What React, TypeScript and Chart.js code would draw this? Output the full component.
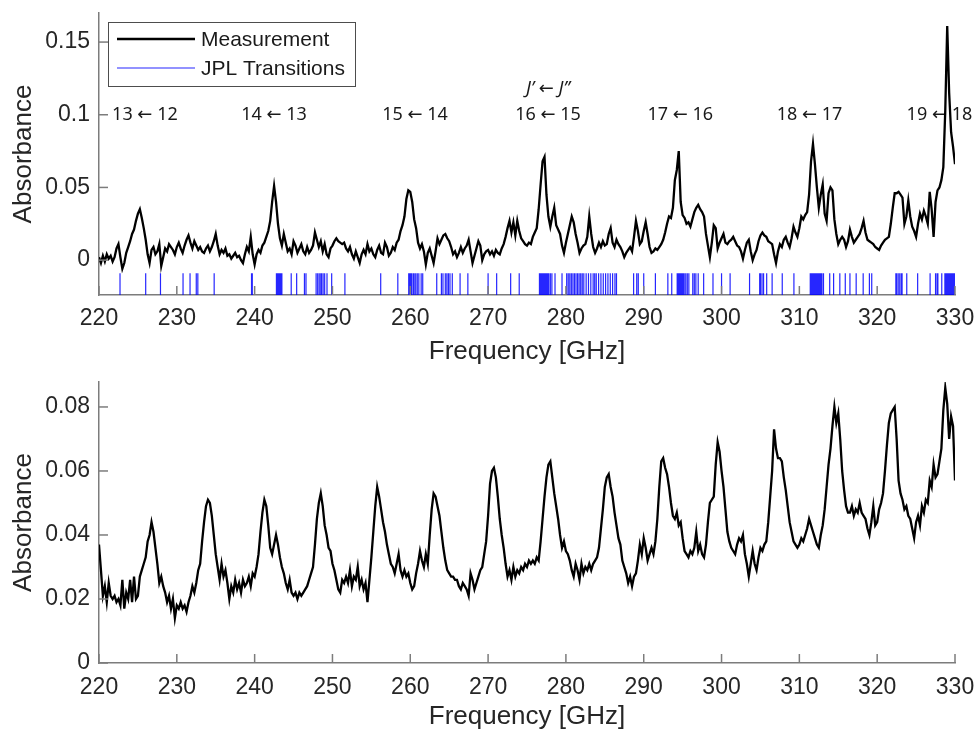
import React, { useEffect, useRef } from "react";
import { Chart, registerables } from "chart.js";

Chart.register(...registerables);

// ---------- data ----------
const FREQ_START = 220; // GHz, first sample
const FREQ_STEP = 0.25; // GHz between samples

const X_TICKS = [220, 230, 240, 250, 260, 270, 280, 290, 300, 310, 320, 330];
const TOP_Y_TICKS = [0, 0.05, 0.1, 0.15];
const BOTTOM_Y_TICKS = [0, 0.02, 0.04, 0.06, 0.08];

// upper panel: measured absorbance, 220 .. 330 GHz every 0.25 GHz (one row = 5 GHz)
const MEASUREMENT_TOP = [
  0.002, -0.002, 0.003, -0.001, 0.004, 0.001, 0.003, -0.001, 0.002, 0.008, 0.011, 0.002, -0.006, -0.002, 0.005, 0.009, 0.013, 0.018, 0.021, 0.027,
  0.032, 0.035, 0.029, 0.022, 0.014, 0.004, -0.002, 0.007, 0.009, 0.004, 0.006, 0.011, -0.004, 0.002, 0.008, 0.006, 0.011, 0.009, 0.007, 0.004,
  0.009, 0.012, 0.008, 0.005, 0.01, 0.014, 0.017, 0.012, 0.008, 0.013, 0.01, 0.007, 0.009, 0.006, 0.005, 0.008, 0.01, 0.006, 0.009, 0.013,
  0.018, 0.01, 0.004, 0.007, 0.005, 0.008, 0.003, 0.004, 0.001, 0.003, 0.005, 0.002, 0.003, 0.0, -0.002, 0.004, 0.009, 0.006, 0.016, 0.004,
  -0.003, 0.004, 0.007, 0.005, 0.01, 0.012, 0.016, 0.02, 0.027, 0.04, 0.051, 0.04, 0.025, 0.015, 0.01, 0.018, 0.012, 0.006, 0.008, 0.004,
  0.013, 0.01, 0.005, 0.008, 0.011, 0.006, 0.004, 0.009, 0.005, 0.007, 0.01, 0.019, 0.014, 0.009, 0.013, 0.006, 0.011, 0.004, 0.002, 0.008,
  0.01, 0.013, 0.015, 0.013, 0.012, 0.011, 0.012, 0.008, 0.006, 0.009, 0.004, 0.001, 0.006, 0.002, -0.002, 0.004, 0.007, 0.004, 0.011, 0.006,
  0.008, 0.004, 0.002, 0.007, 0.01, 0.005, 0.004, 0.012, 0.009, 0.003, 0.005, 0.009, 0.007, 0.012, 0.014, 0.02, 0.024, 0.03, 0.042, 0.048,
  0.047, 0.04, 0.028, 0.022, 0.012, 0.008, 0.011, 0.006, -0.003, 0.005, 0.008, 0.003, -0.002, 0.006, 0.015, 0.011, 0.014, 0.017, 0.018, 0.015,
  0.013, 0.009, 0.004, 0.006, 0.002, 0.005, 0.009, 0.005, 0.008, 0.01, 0.014, 0.006, -0.002, 0.003, 0.008, 0.013, 0.01, 0.0, 0.004, 0.006,
  0.007, 0.004, 0.006, 0.003, 0.007, 0.005, 0.004, 0.008, 0.011, 0.016, 0.022, 0.027, 0.019, 0.026, 0.017, 0.027, 0.02, 0.015, 0.013, 0.011,
  0.01, 0.012, 0.011, 0.016, 0.019, 0.022, 0.035, 0.052, 0.068, 0.071, 0.045, 0.03, 0.023, 0.03, 0.036, 0.024, 0.021, 0.018, 0.01, 0.005,
  0.012, 0.018, 0.024, 0.03, 0.026, 0.018, 0.012, 0.005, 0.008, 0.01, 0.011, 0.016, 0.03, 0.018, 0.009, 0.005, 0.008, 0.012, 0.009, 0.013,
  0.01, 0.011, 0.018, 0.022, 0.012, 0.009, 0.014, 0.011, 0.009, 0.006, 0.002, 0.005, 0.007, 0.009, 0.006, 0.016, 0.027, 0.02, 0.011, 0.013,
  0.02, 0.026, 0.018, 0.009, 0.005, 0.006, 0.008, 0.007, 0.009, 0.011, 0.014, 0.019, 0.025, 0.03, 0.029, 0.036, 0.055, 0.062, 0.075, 0.04,
  0.031, 0.029, 0.025, 0.026, 0.023, 0.028, 0.033, 0.036, 0.038, 0.035, 0.033, 0.03, 0.018, 0.01, 0.002, 0.012, 0.024, 0.022, 0.008, 0.012,
  0.015, 0.018, 0.012, 0.011, 0.013, 0.014, 0.016, 0.013, 0.01, 0.009, 0.006, 0.001, 0.007, 0.012, 0.014, 0.006, 0.0, 0.004, 0.007, 0.013,
  0.017, 0.019, 0.017, 0.016, 0.013, 0.012, 0.011, 0.004, -0.002, 0.006, 0.011, 0.009, 0.014, 0.016, 0.012, 0.009, 0.015, 0.023, 0.019, 0.016,
  0.022, 0.03, 0.028, 0.031, 0.033, 0.045, 0.068, 0.08, 0.066, 0.05, 0.036, 0.045, 0.052, 0.032, 0.027, 0.046, 0.05, 0.048, 0.028, 0.018,
  0.011, 0.014, 0.016, 0.014, 0.009, 0.013, 0.021, 0.016, 0.012, 0.014, 0.016, 0.018, 0.022, 0.027, 0.019, 0.014, 0.013, 0.012, 0.011, 0.009,
  0.008, 0.007, 0.01, 0.012, 0.014, 0.015, 0.016, 0.025, 0.036, 0.046, 0.046, 0.047, 0.045, 0.043, 0.025, 0.03, 0.041, 0.03, 0.023, 0.02,
  0.016, 0.025, 0.032, 0.028, 0.034, 0.03, 0.025, 0.047, 0.035, 0.016, 0.04, 0.048, 0.05, 0.055, 0.064, 0.103, 0.161, 0.115, 0.088, 0.078,
  0.066,
];

// lower panel: absorbance, 220 .. 330 GHz every 0.25 GHz (one row = 5 GHz)
const MEASUREMENT_BOTTOM = [
  0.037, 0.029, 0.021, 0.024, 0.019, 0.025, 0.021, 0.02, 0.021, 0.019, 0.02, 0.018, 0.026, 0.017, 0.022, 0.02, 0.026, 0.019, 0.027, 0.02,
  0.021, 0.027, 0.029, 0.031, 0.033, 0.038, 0.04, 0.044, 0.041, 0.036, 0.031, 0.025, 0.027, 0.024, 0.022, 0.019, 0.021, 0.017, 0.02, 0.014,
  0.018, 0.017, 0.019, 0.017, 0.018, 0.016, 0.019, 0.021, 0.024, 0.022, 0.025, 0.029, 0.031, 0.038, 0.044, 0.049, 0.051, 0.05, 0.046, 0.04,
  0.034, 0.03, 0.026, 0.031, 0.027, 0.029, 0.025, 0.02, 0.024, 0.022, 0.026, 0.023, 0.025, 0.022, 0.026, 0.024, 0.025, 0.027, 0.024, 0.028,
  0.027, 0.03, 0.034, 0.041, 0.047, 0.051, 0.049, 0.043, 0.036, 0.034, 0.037, 0.04, 0.037, 0.033, 0.03, 0.028, 0.025, 0.023, 0.026, 0.022,
  0.021, 0.022, 0.02, 0.022, 0.021, 0.022, 0.023, 0.024, 0.026, 0.028, 0.03, 0.037, 0.045, 0.05, 0.053, 0.049, 0.043, 0.04, 0.036, 0.035,
  0.031, 0.029, 0.026, 0.023, 0.022, 0.026, 0.025, 0.027, 0.025, 0.029, 0.024, 0.027, 0.026, 0.03, 0.024, 0.026, 0.023, 0.025, 0.019, 0.026,
  0.033, 0.041, 0.049, 0.055, 0.052, 0.048, 0.044, 0.041, 0.037, 0.034, 0.031, 0.03, 0.028, 0.031, 0.034, 0.029, 0.027, 0.029, 0.027, 0.028,
  0.025, 0.023, 0.024, 0.028, 0.031, 0.035, 0.032, 0.03, 0.034, 0.031, 0.04, 0.048, 0.053, 0.052, 0.049, 0.046, 0.041, 0.036, 0.032, 0.029,
  0.028, 0.027, 0.027, 0.026, 0.026, 0.024, 0.023, 0.025, 0.024, 0.023, 0.021, 0.028, 0.026, 0.023, 0.025, 0.027, 0.029, 0.03, 0.034, 0.038,
  0.046, 0.056, 0.06, 0.061, 0.058, 0.052, 0.045, 0.04, 0.036, 0.031, 0.027, 0.029, 0.026, 0.03, 0.027, 0.029, 0.028, 0.03, 0.029, 0.031,
  0.03, 0.032, 0.031, 0.032, 0.031, 0.033, 0.032, 0.038, 0.045, 0.052, 0.058, 0.062, 0.063, 0.058, 0.053, 0.049, 0.045, 0.04, 0.036, 0.038,
  0.035, 0.034, 0.032, 0.029, 0.027, 0.031, 0.029, 0.026, 0.031, 0.028, 0.03, 0.029, 0.031, 0.029, 0.031, 0.032, 0.033, 0.036, 0.042, 0.048,
  0.055, 0.058, 0.059, 0.055, 0.052, 0.047, 0.043, 0.039, 0.037, 0.032, 0.03, 0.028, 0.025, 0.027, 0.024, 0.027, 0.028, 0.032, 0.037, 0.034,
  0.039, 0.036, 0.032, 0.034, 0.036, 0.034, 0.038, 0.045, 0.055, 0.063, 0.064, 0.061, 0.059, 0.055, 0.05, 0.046, 0.045, 0.047, 0.043, 0.044,
  0.039, 0.035, 0.034, 0.033, 0.035, 0.034, 0.036, 0.041, 0.035, 0.037, 0.034, 0.033, 0.037, 0.044, 0.05, 0.051, 0.052, 0.062, 0.069, 0.066,
  0.06, 0.055, 0.048, 0.041, 0.038, 0.036, 0.035, 0.034, 0.037, 0.039, 0.038, 0.04, 0.034, 0.031, 0.027, 0.031, 0.035, 0.031, 0.029, 0.033,
  0.036, 0.035, 0.037, 0.038, 0.044, 0.052, 0.06, 0.073, 0.067, 0.064, 0.064, 0.063, 0.058, 0.054, 0.049, 0.044, 0.041, 0.038, 0.037, 0.036,
  0.037, 0.039, 0.038, 0.04, 0.042, 0.045, 0.043, 0.041, 0.039, 0.037, 0.036, 0.04, 0.043, 0.048, 0.055, 0.062, 0.067, 0.074, 0.08, 0.075,
  0.078, 0.07, 0.06, 0.054, 0.049, 0.047, 0.047, 0.049, 0.046, 0.048, 0.047, 0.05, 0.047, 0.046, 0.045, 0.042, 0.04, 0.044, 0.049, 0.043,
  0.044, 0.048, 0.05, 0.053, 0.06, 0.068, 0.075, 0.078, 0.079, 0.08, 0.07, 0.057, 0.053, 0.051, 0.048, 0.049, 0.046, 0.045, 0.042, 0.039,
  0.044, 0.046, 0.043, 0.049, 0.047, 0.051, 0.05, 0.057, 0.055, 0.062, 0.058, 0.059, 0.063, 0.067, 0.079, 0.086, 0.081, 0.07, 0.077, 0.074,
  0.057,
];

// JPL catalogue line positions (GHz)
const JPL_FREQS = [
  222.7, 226.0, 227.9, 230.8, 231.7, 232.5, 232.7, 234.8, 239.6, 239.7,
  242.8, 242.9, 243.0, 243.1, 243.2, 243.3, 243.4, 243.5,
  244.7, 245.4, 246.4, 246.6,
  247.9, 248.1, 248.3, 248.5, 248.6, 248.8, 249.0, 249.3, 249.9, 251.6,
  256.2, 258.4,
  259.8, 259.9, 260.0, 260.1, 260.2, 260.4, 260.5, 260.7, 260.9, 261.1, 261.4, 261.6,
  263.4, 264.0, 264.2, 264.5, 264.7, 264.9, 265.1, 265.4, 266.4, 267.4,
  270.0, 271.1, 272.9, 274.0,
  276.6, 276.7, 276.8, 276.9, 277.0, 277.1, 277.2, 277.3, 277.4, 277.5, 277.6, 277.7, 277.8, 278.0, 278.2, 278.6, 279.5,
  280.1, 280.3, 280.5, 280.7, 280.9, 281.1, 281.3, 281.5, 281.7, 281.9, 282.1, 282.3, 282.6, 282.9, 283.2, 283.5, 283.7,
  283.9, 284.2, 284.5, 284.8, 285.1, 285.4, 285.7, 286.0, 286.3, 286.5,
  288.7, 289.1, 289.3, 290.0, 291.5,
  293.1, 293.6, 294.3, 294.4, 294.5, 294.6, 294.7, 294.8, 294.9, 295.0, 295.1, 295.2, 295.4, 295.6, 295.8,
  296.3, 296.5, 296.7, 297.0, 297.7, 298.9, 300.0, 301.1,
  303.6, 304.9, 305.0, 305.2, 305.4, 305.8, 306.5, 307.8, 309.3,
  311.4, 311.5, 311.6, 311.7, 311.8, 311.9, 312.0, 312.1, 312.2, 312.3, 312.4, 312.5, 312.6, 312.7, 312.8, 312.9, 313.1,
  313.9, 314.4, 315.2, 315.9, 316.5, 317.3, 318.2, 319.0, 319.3,
  322.4, 322.5, 322.7, 322.9, 323.1, 323.2, 323.8, 325.2, 326.8, 327.5, 327.7, 327.8, 328.3,
  328.7, 328.8, 328.9, 329.0, 329.1, 329.2, 329.3, 329.4, 329.5, 329.6, 329.7, 329.8, 329.9, 330.0,
];

const TRANSITION_LABELS = ["13 ← 12", "14 ← 13", "15 ← 14", "16 ← 15", "17 ← 16", "18 ← 17", "19 ← 18"];
const TRANSITION_FREQS = [225.9, 242.5, 260.6, 277.7, 294.7, 311.3, 328.0];
const TRANSITION_LABEL_Y = 0.1;
const QN_HEADER = "J’ ← J”";
const QN_HEADER_FREQ = 277.7;
const QN_HEADER_Y = 0.118;

// ---------- styling ----------
const FONT = "'Liberation Sans', Arial, sans-serif";
const LABEL_FONT = "'Noto Sans', 'DejaVu Sans', sans-serif";
const AXIS_COLOR = "#7c7c7c";
const TEXT_COLOR = "#262626";
const TOP_Y_MIN = -0.024;
const TOP_Y_MAX = 0.17;
const BOTTOM_Y_MIN = 0;
const BOTTOM_Y_MAX = 0.0878;
const JPL_LOW = -0.024;
const JPL_HIGH = -0.009;

const toPoints = (vals: number[]) =>
  vals.map((v, i) => ({ x: FREQ_START + i * FREQ_STEP, y: v }));

const jplPoints = () => {
  const pts: { x: number; y: number | null }[] = [];
  JPL_FREQS.forEach((f) => {
    pts.push({ x: f, y: JPL_LOW }, { x: f, y: JPL_HIGH }, { x: f, y: null });
  });
  return pts;
};

const inwardTicks = {
  id: "inwardTicks",
  afterDatasetsDraw(chart: any) {
    const { ctx, chartArea, scales } = chart;
    ctx.save();
    ctx.strokeStyle = AXIS_COLOR;
    ctx.lineWidth = 1.5;
    scales.x.ticks.forEach((t: any) => {
      const p = scales.x.getPixelForValue(t.value);
      ctx.beginPath();
      ctx.moveTo(p, chartArea.bottom);
      ctx.lineTo(p, chartArea.bottom - 9);
      ctx.stroke();
    });
    scales.y.ticks.forEach((t: any) => {
      const p = scales.y.getPixelForValue(t.value);
      ctx.beginPath();
      ctx.moveTo(chartArea.left, p);
      ctx.lineTo(chartArea.left + 9, p);
      ctx.stroke();
    });
    ctx.restore();
  },
};

const insetLegend = {
  id: "insetLegend",
  afterDraw(chart: any) {
    const { ctx, chartArea } = chart;
    const x0 = chartArea.left + 9;
    const y0 = chartArea.top + 9;
    const w = 247;
    const h = 64;
    ctx.save();
    ctx.fillStyle = "#ffffff";
    ctx.fillRect(x0, y0, w, h);
    ctx.strokeStyle = "#4d4d4d";
    ctx.lineWidth = 1;
    ctx.strokeRect(x0 + 0.5, y0 + 0.5, w, h);
    chart.data.datasets.forEach((ds: any, i: number) => {
      const yy = y0 + 17 + i * 29;
      ctx.strokeStyle = ds.borderColor;
      ctx.lineWidth = ds.borderWidth;
      ctx.beginPath();
      ctx.moveTo(x0 + 9, yy);
      ctx.lineTo(x0 + 87, yy);
      ctx.stroke();
      ctx.fillStyle = "#1a1a1a";
      ctx.font = `21px ${FONT}`;
      ctx.textAlign = "left";
      ctx.textBaseline = "middle";
      ctx.fillText(ds.label, x0 + 93, yy + 1);
    });
    ctx.restore();
  },
};

const transitionLabels = {
  id: "transitionLabels",
  beforeDatasetsDraw(chart: any) {
    const { ctx, scales } = chart;
    ctx.save();
    ctx.fillStyle = "#1a1a1a";
    ctx.textAlign = "center";
    ctx.textBaseline = "middle";
    ctx.font = `18px ${LABEL_FONT}`;
    TRANSITION_LABELS.forEach((t, i) => {
      ctx.fillText(t, scales.x.getPixelForValue(TRANSITION_FREQS[i]), scales.y.getPixelForValue(TRANSITION_LABEL_Y));
    });
    ctx.font = `italic 18px ${LABEL_FONT}`;
    ctx.fillText(QN_HEADER, scales.x.getPixelForValue(QN_HEADER_FREQ), scales.y.getPixelForValue(QN_HEADER_Y));
    ctx.restore();
  },
};

function makeScales(yMin: number, yMax: number, yTicks: number[], xHeight: number, xPad: number) {
  return {
    x: {
      type: "linear",
      min: 220,
      max: 330,
      afterBuildTicks: (s: any) => {
        s.ticks = X_TICKS.map((v) => ({ value: v }));
      },
      afterFit: (s: any) => {
        s.height = xHeight;
        s.paddingLeft = 0;
        s.paddingRight = 0;
      },
      grid: { display: false, drawTicks: false, tickLength: 0 },
      border: { display: true, color: AXIS_COLOR, width: 1.5 },
      ticks: {
        padding: xPad,
        color: TEXT_COLOR,
        font: { family: FONT, size: 23 },
        maxRotation: 0,
        autoSkip: false,
        callback: (v: any) => String(v),
      },
      title: {
        display: true,
        text: "Frequency [GHz]",
        color: TEXT_COLOR,
        font: { family: FONT, size: 26, lineHeight: 1 },
        padding: { top: 0, bottom: 1 },
      },
    },
    y: {
      type: "linear",
      min: yMin,
      max: yMax,
      afterBuildTicks: (s: any) => {
        s.ticks = yTicks.map((v) => ({ value: v }));
      },
      afterFit: (s: any) => {
        s.width = 99;
        s.paddingTop = 0;
        s.paddingBottom = 0;
      },
      grid: { display: false, drawTicks: false, tickLength: 0 },
      border: { display: true, color: AXIS_COLOR, width: 1.5 },
      ticks: {
        padding: 9,
        color: TEXT_COLOR,
        font: { family: FONT, size: 23 },
        callback: (v: any) => String(v),
      },
      title: {
        display: true,
        text: "Absorbance",
        color: TEXT_COLOR,
        font: { family: FONT, size: 26, lineHeight: 1 },
        padding: { top: 11, bottom: 0 },
      },
    },
  };
}

export default function App() {
  const topRef = useRef<HTMLCanvasElement>(null);
  const botRef = useRef<HTMLCanvasElement>(null);

  useEffect(() => {
    const top = new Chart(topRef.current as HTMLCanvasElement, {
      type: "line",
      data: {
        datasets: [
          {
            label: "Measurement",
            data: toPoints(MEASUREMENT_TOP),
            borderColor: "#000000",
            borderWidth: 2.3,
            pointRadius: 0,
            tension: 0,
          },
          {
            label: "JPL Transitions",
            data: jplPoints(),
            borderColor: "rgba(0,0,255,0.85)",
            borderWidth: 1.2,
            pointRadius: 0,
            spanGaps: false,
          },
        ],
      } as any,
      options: {
        responsive: false,
        maintainAspectRatio: false,
        animation: false,
        layout: { padding: { top: 13, right: 21, left: 0, bottom: 0 } },
        plugins: { legend: { display: false }, tooltip: { enabled: false } },
        scales: makeScales(TOP_Y_MIN, TOP_Y_MAX, TOP_Y_TICKS, 71, 10) as any,
      },
      plugins: [transitionLabels, inwardTicks, insetLegend],
    });

    const bot = new Chart(botRef.current as HTMLCanvasElement, {
      type: "line",
      data: {
        datasets: [
          {
            label: "Absorbance",
            data: toPoints(MEASUREMENT_BOTTOM),
            borderColor: "#000000",
            borderWidth: 2.3,
            pointRadius: 0,
            tension: 0,
          },
        ],
      } as any,
      options: {
        responsive: false,
        maintainAspectRatio: false,
        animation: false,
        layout: { padding: { top: 16, right: 21, left: 0, bottom: 0 } },
        plugins: { legend: { display: false }, tooltip: { enabled: false } },
        scales: makeScales(BOTTOM_Y_MIN, BOTTOM_Y_MAX, BOTTOM_Y_TICKS, 68, 11) as any,
      },
      plugins: [inwardTicks],
    });

    return () => {
      top.destroy();
      bot.destroy();
    };
  }, []);

  return (
    <div style={{ position: "absolute", left: 0, top: 0, width: 976, height: 731, background: "#ffffff" }}>
      <canvas
        ref={topRef}
        width={976}
        height={366}
        style={{ position: "absolute", left: 0, top: 0, width: 976, height: 366 }}
      />
      <canvas
        ref={botRef}
        width={976}
        height={365}
        style={{ position: "absolute", left: 0, top: 366, width: 976, height: 365 }}
      />
    </div>
  );
}
